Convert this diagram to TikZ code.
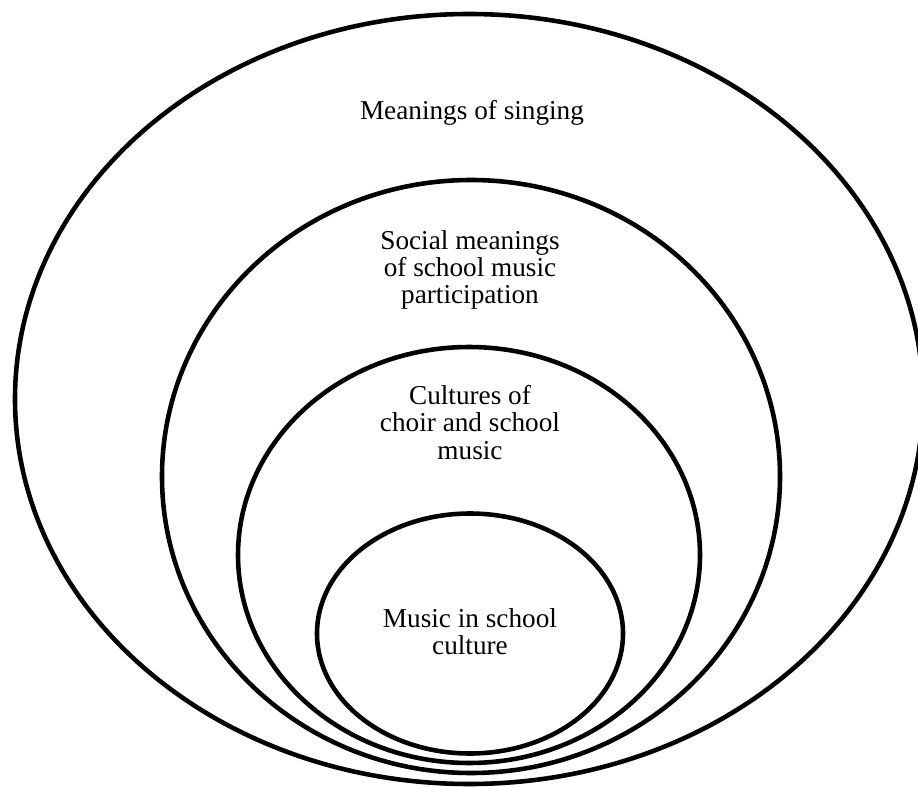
\documentclass[tikz,border=0pt]{standalone}
\usepackage{fontspec}
\setmainfont{Liberation Serif}
\begin{document}
\begin{tikzpicture}[ring/.style={line width=2.6pt},
    lbl/.style={align=center,inner sep=0pt,font=\fontsize{15.5}{15.4}\selectfont}]
  \useasboundingbox (0,0) rectangle (18.36,15.72);
  % nested ellipses, all nearly touching at the bottom
  \draw[ring] (9.38,7.74) ellipse [x radius=9.08, y radius=7.70];
  \draw[ring] (9.42,6.19) ellipse [x radius=6.18, y radius=5.93];
  \draw[ring] (9.38,4.62) ellipse [x radius=4.62, y radius=4.16];
  \draw[ring] (9.40,3.05) ellipse [x radius=3.06, y radius=2.40];
  \node[lbl] (meanings) at (9.44,13.47) {Meanings of singing};
  \node[lbl] (social) at (9.40,10.32) {Social meanings\\of school music\\participation};
  \node[lbl] (cultures) at (9.40,7.27) {Cultures of\\choir and school\\music};
  \node[lbl] (school) at (9.40,3.08) {Music in school\\culture};
\end{tikzpicture}
\end{document}
